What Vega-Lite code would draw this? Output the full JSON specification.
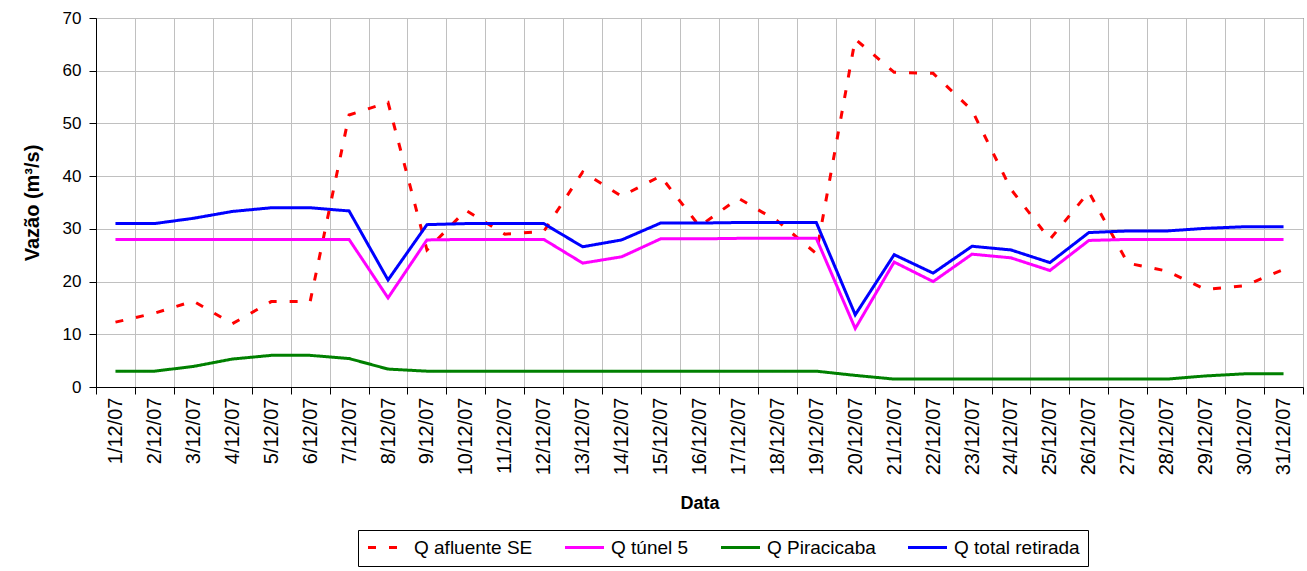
{
  "$schema": "https://vega.github.io/schema/vega-lite/v6.json",
  "width": 1207,
  "height": 369,
  "autosize": {"type": "none"},
  "padding": {"left": 96, "top": 18, "right": 4, "bottom": 184},
  "background": "white",
  "config": {
    "font": "Liberation Sans",
    "view": {"stroke": "#303030", "strokeWidth": 1},
    "legend": {
      "orient": "none",
      "legendX": 262,
      "legendY": 512,
      "direction": "horizontal",
      "columns": 4,
      "gridAlign": "none",
      "columnPadding": 26,
      "symbolType": "M-1,0H4.2",
      "symbolSize": 225,
      "symbolStrokeWidth": 3,
      "labelFontSize": 19,
      "labelColor": "black",
      "labelOffset": 29,
      "padding": 8,
      "strokeColor": "black",
      "fillColor": "white"
    }
  },
  "data": {
    "values": [
      {"day": 1, "Q afluente SE": 12.3, "Q túnel 5": 28.0, "Q Piracicaba": 3.0, "Q total retirada": 31.0},
      {"day": 2, "Q afluente SE": 14.0, "Q túnel 5": 28.0, "Q Piracicaba": 3.0, "Q total retirada": 31.0},
      {"day": 3, "Q afluente SE": 16.3, "Q túnel 5": 28.0, "Q Piracicaba": 3.9, "Q total retirada": 32.0},
      {"day": 4, "Q afluente SE": 12.0, "Q túnel 5": 28.0, "Q Piracicaba": 5.3, "Q total retirada": 33.3},
      {"day": 5, "Q afluente SE": 16.2, "Q túnel 5": 28.0, "Q Piracicaba": 6.0, "Q total retirada": 34.0},
      {"day": 6, "Q afluente SE": 16.2, "Q túnel 5": 28.0, "Q Piracicaba": 6.0, "Q total retirada": 34.0},
      {"day": 7, "Q afluente SE": 51.6, "Q túnel 5": 28.0, "Q Piracicaba": 5.4, "Q total retirada": 33.4},
      {"day": 8, "Q afluente SE": 54.0, "Q túnel 5": 16.9, "Q Piracicaba": 3.4, "Q total retirada": 20.3},
      {"day": 9, "Q afluente SE": 26.0, "Q túnel 5": 27.9, "Q Piracicaba": 3.0, "Q total retirada": 30.8},
      {"day": 10, "Q afluente SE": 33.5, "Q túnel 5": 28.0, "Q Piracicaba": 3.0, "Q total retirada": 31.0},
      {"day": 11, "Q afluente SE": 29.0, "Q túnel 5": 28.0, "Q Piracicaba": 3.0, "Q total retirada": 31.0},
      {"day": 12, "Q afluente SE": 29.5, "Q túnel 5": 28.0, "Q Piracicaba": 3.0, "Q total retirada": 31.0},
      {"day": 13, "Q afluente SE": 40.8, "Q túnel 5": 23.5, "Q Piracicaba": 3.0, "Q total retirada": 26.6},
      {"day": 14, "Q afluente SE": 36.2, "Q túnel 5": 24.7, "Q Piracicaba": 3.0, "Q total retirada": 27.9},
      {"day": 15, "Q afluente SE": 40.0, "Q túnel 5": 28.1, "Q Piracicaba": 3.0, "Q total retirada": 31.1},
      {"day": 16, "Q afluente SE": 30.5, "Q túnel 5": 28.1, "Q Piracicaba": 3.0, "Q total retirada": 31.1},
      {"day": 17, "Q afluente SE": 35.8, "Q túnel 5": 28.2, "Q Piracicaba": 3.0, "Q total retirada": 31.2},
      {"day": 18, "Q afluente SE": 31.5, "Q túnel 5": 28.2, "Q Piracicaba": 3.0, "Q total retirada": 31.2},
      {"day": 19, "Q afluente SE": 25.3, "Q túnel 5": 28.2, "Q Piracicaba": 3.0, "Q total retirada": 31.2},
      {"day": 20, "Q afluente SE": 66.0, "Q túnel 5": 11.1, "Q Piracicaba": 2.2, "Q total retirada": 13.7},
      {"day": 21, "Q afluente SE": 59.7, "Q túnel 5": 23.7, "Q Piracicaba": 1.5, "Q total retirada": 25.1},
      {"day": 22, "Q afluente SE": 59.5, "Q túnel 5": 20.0, "Q Piracicaba": 1.5, "Q total retirada": 21.6},
      {"day": 23, "Q afluente SE": 52.5, "Q túnel 5": 25.2, "Q Piracicaba": 1.5, "Q total retirada": 26.7},
      {"day": 24, "Q afluente SE": 37.5, "Q túnel 5": 24.5, "Q Piracicaba": 1.5, "Q total retirada": 26.0},
      {"day": 25, "Q afluente SE": 28.0, "Q túnel 5": 22.1, "Q Piracicaba": 1.5, "Q total retirada": 23.6},
      {"day": 26, "Q afluente SE": 37.0, "Q túnel 5": 27.8, "Q Piracicaba": 1.5, "Q total retirada": 29.3},
      {"day": 27, "Q afluente SE": 23.5, "Q túnel 5": 28.0, "Q Piracicaba": 1.5, "Q total retirada": 29.6},
      {"day": 28, "Q afluente SE": 22.0, "Q túnel 5": 28.0, "Q Piracicaba": 1.5, "Q total retirada": 29.6},
      {"day": 29, "Q afluente SE": 18.5, "Q túnel 5": 28.0, "Q Piracicaba": 2.1, "Q total retirada": 30.1},
      {"day": 30, "Q afluente SE": 19.2, "Q túnel 5": 28.0, "Q Piracicaba": 2.5, "Q total retirada": 30.4},
      {"day": 31, "Q afluente SE": 22.3, "Q túnel 5": 28.0, "Q Piracicaba": 2.5, "Q total retirada": 30.4}
    ]
  },
  "transform": [
    {"fold": ["Q afluente SE", "Q túnel 5", "Q Piracicaba", "Q total retirada"], "as": ["serie", "vazao"]}
  ],
  "resolve": {"axis": {"x": "independent"}},
  "layer": [
    {
      "mark": {"type": "rule", "opacity": 0},
      "encoding": {
        "x": {
          "field": "day",
          "type": "quantitative",
          "scale": {"domain": [0.5, 31.5], "nice": false, "zero": false},
          "axis": {
            "orient": "bottom",
            "values": [0.5, 1.5, 2.5, 3.5, 4.5, 5.5, 6.5, 7.5, 8.5, 9.5, 10.5, 11.5, 12.5, 13.5, 14.5, 15.5, 16.5, 17.5, 18.5, 19.5, 20.5, 21.5, 22.5, 23.5, 24.5, 25.5, 26.5, 27.5, 28.5, 29.5, 30.5, 31.5],
            "labels": false,
            "ticks": true,
            "tickSize": 7,
            "tickColor": "black",
            "domain": true,
            "domainColor": "black",
            "grid": true,
            "gridColor": "#c0c0c0",
            "title": null
          }
        }
      }
    },
    {
      "mark": {"type": "line", "strokeWidth": 3},
      "encoding": {
        "x": {
          "field": "day",
          "type": "quantitative",
          "scale": {"domain": [0.5, 31.5], "nice": false, "zero": false},
          "axis": {
            "orient": "bottom",
            "values": [1, 2, 3, 4, 5, 6, 7, 8, 9, 10, 11, 12, 13, 14, 15, 16, 17, 18, 19, 20, 21, 22, 23, 24, 25, 26, 27, 28, 29, 30, 31],
            "labelExpr": "datum.value + '/12/07'",
            "labelAngle": 270,
            "labelAlign": "right",
            "labelBaseline": "middle",
            "labelFontSize": 20,
            "labelColor": "black",
            "labelPadding": 10,
            "labelOverlap": false,
            "labelFlush": false,
            "ticks": false,
            "tickSize": 0,
            "grid": false,
            "domain": false,
            "title": "Data",
            "titleFontSize": 18,
            "titleFontWeight": "bold",
            "titleColor": "black",
            "titlePadding": 20
          }
        },
        "y": {
          "field": "vazao",
          "type": "quantitative",
          "scale": {"domain": [0, 70], "nice": false},
          "axis": {
            "values": [0, 10, 20, 30, 40, 50, 60, 70],
            "grid": true,
            "gridColor": "#c0c0c0",
            "tickSize": 7,
            "tickColor": "black",
            "domainColor": "black",
            "labelFontSize": 17,
            "labelColor": "black",
            "labelPadding": 8,
            "title": "Vazão (m³/s)",
            "titleFontSize": 20,
            "titleFontWeight": "bold",
            "titleColor": "black",
            "titlePadding": 20
          }
        },
        "color": {
          "field": "serie",
          "type": "nominal",
          "title": null,
          "scale": {
            "domain": ["Q afluente SE", "Q túnel 5", "Q Piracicaba", "Q total retirada"],
            "range": ["#FF0000", "#FF00FF", "#008000", "#0000FF"]
          }
        },
        "strokeDash": {
          "field": "serie",
          "type": "nominal",
          "title": null,
          "scale": {
            "domain": ["Q afluente SE", "Q túnel 5", "Q Piracicaba", "Q total retirada"],
            "range": [[8, 13], [1, 0], [1, 0], [1, 0]]
          }
        }
      }
    }
  ]
}
